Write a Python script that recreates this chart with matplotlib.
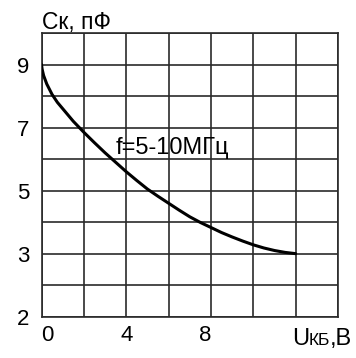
import matplotlib
matplotlib.use("Agg")
import matplotlib.pyplot as plt

plt.rcParams['font.family'] = ['Liberation Sans', 'DejaVu Sans']

# curve (x in volts, y in grid units)
u_kb = [0, 0.03, 0.1, 0.25, 0.5, 0.75, 1.0, 1.5, 2.0, 2.5, 3.0, 3.5, 4.0, 4.5, 5.0,
        5.5, 6.0, 6.5, 7.0, 7.5, 8.0, 8.5, 9.0, 9.5, 10.0, 10.5, 11.0, 11.5, 12.0]
c_k = [9.0, 8.85, 8.65, 8.38, 8.05, 7.8, 7.6, 7.2, 6.85, 6.52, 6.2, 5.9, 5.6, 5.32, 5.05,
       4.82, 4.6, 4.38, 4.17, 3.99, 3.83, 3.67, 3.53, 3.4, 3.28, 3.18, 3.1, 3.04, 3.0]

x_grid = [0, 2, 4, 6, 8, 10, 12, 14]
x_labels = ['0', '', '4', '', '8', '', '', '']
y_grid = [1, 2, 3, 4, 5, 6, 7, 8, 9, 10]
y_labels = ['2', '', '3', '', '5', '', '7', '', '9', '']

grid_col = '#2a2a2a'

fig = plt.figure(figsize=(3.56, 3.58), dpi=100)
ax = fig.add_axes([41.5 / 356, 1 - 316.7 / 358, (338 - 41.5) / 356, (316.7 - 33) / 358])

ax.plot(u_kb, c_k, color='black', lw=2.2, solid_capstyle='round', solid_joinstyle='round', zorder=3)

ax.set_xlim(0, 14)
ax.set_ylim(1, 10)
ax.set_xticks(x_grid)
ax.set_xticklabels(x_labels, fontsize=16)
ax.set_yticks(y_grid)
ax.set_yticklabels(y_labels, fontsize=16)
ax.tick_params(length=0, pad=6)
ax.tick_params(axis='y', pad=9)
ax.grid(True, color=grid_col, lw=1.2)
for s in ax.spines.values():
    s.set_color(grid_col)
    s.set_linewidth(1.2)

# nudge the x tick labels like in the original
xt = ax.get_xticklabels()
xt[0].set_ha('left')
xt[4].set_ha('right')

ax.text(3.51, 6.15, 'f=5-10МГц', fontsize=17, va='baseline', ha='left', zorder=4)

# y axis title
fig.text(41.5 / 356, 1 - 29 / 358, 'Ск, пФ', fontsize=16.5, va='baseline', ha='left')

# x axis title "Uкб,В" with small caps part
ybase = (316.7 - 345) / 283.7
t1 = ax.text(0.844, ybase, 'U', transform=ax.transAxes, fontsize=17, va='baseline', ha='left', clip_on=False)
t2 = ax.annotate('КБ', xy=(1, ybase), xycoords=(t1, 'axes fraction'), fontsize=12.5,
                 va='baseline', ha='left', annotation_clip=False)
t3 = ax.annotate(',В', xy=(1, ybase), xycoords=(t2, 'axes fraction'), fontsize=17,
                 va='baseline', ha='left', annotation_clip=False)

fig.savefig('out.png', dpi=100)
